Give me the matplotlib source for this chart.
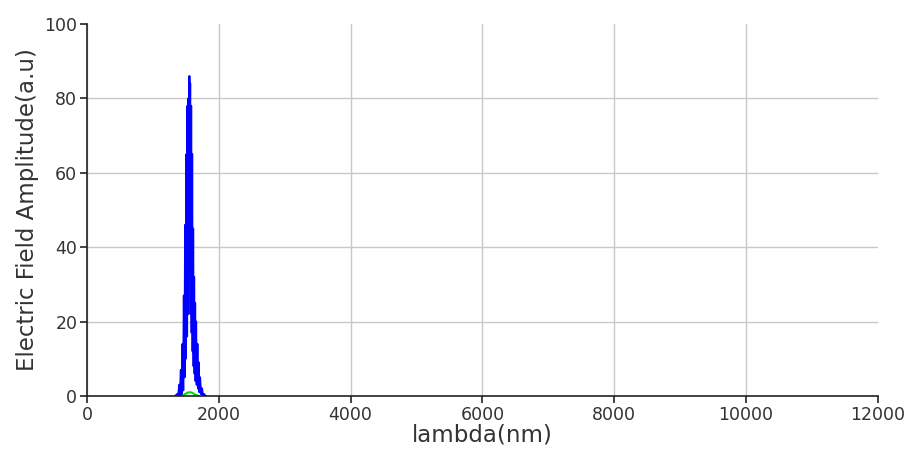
import matplotlib
matplotlib.use("Agg")
import matplotlib.pyplot as plt

# spectrum (wavelength nm, amplitude a.u.)
lam_blue = [1340, 1370, 1385, 1400, 1410, 1425, 1435, 1450, 1460, 1470, 1480, 1490, 1500, 1510,
            1518, 1525, 1532, 1540, 1548, 1553, 1558, 1565, 1572, 1580, 1588, 1595, 1603, 1610,
            1618, 1625, 1633, 1640, 1648, 1655, 1665, 1675, 1685, 1695, 1705, 1715, 1730, 1745,
            1760, 1775, 1800]
amp_blue = [0, 0.5, 0, 3, 0, 7, 0.5, 14, 1.5, 27, 5, 46, 10, 65,
            16, 78, 22, 80, 62, 86, 62, 84, 22, 78, 17, 65, 12, 45,
            8, 32, 6, 25, 4, 20, 3, 14, 2, 9, 1, 5, 0.5, 2,
            0, 0.5, 0]

lam_green = [1430, 1470, 1500, 1530, 1560, 1590, 1620, 1650, 1690]
amp_green = [0, 0.3, 0.6, 0.9, 1.0, 0.9, 0.6, 0.3, 0]

x_ticks = [0, 2000, 4000, 6000, 8000, 10000, 12000]
y_ticks = [0, 20, 40, 60, 80, 100]

fig = plt.figure(figsize=(9.06, 4.53), dpi=100)
ax = fig.add_axes([0.096, 0.126, 0.873, 0.821])
ax.plot(lam_green, amp_green, color="#00dd00", lw=1.5, zorder=2)
ax.plot(lam_blue, amp_blue, color="#0000ff", lw=1.5, zorder=3)

ax.set_xlim(0, 12000)
ax.set_ylim(0, 100)
ax.set_xticks(x_ticks)
ax.set_yticks(y_ticks)
ax.grid(True, color="#c8c8c8", lw=1.0, zorder=0)
ax.set_axisbelow(True)
# no grid line on the open top / right edges
ax.xaxis.get_gridlines()[-1].set_visible(False)
ax.yaxis.get_gridlines()[-1].set_visible(False)
for s in ("top", "right"):
    ax.spines[s].set_visible(False)
for s in ("left", "bottom"):
    ax.spines[s].set_color("#222222")
    ax.spines[s].set_linewidth(1.2)
ax.tick_params(direction="out", length=5, width=1.2, color="#222222",
               labelsize=12.5, labelcolor="#333333", pad=2)
ax.set_xlabel("lambda(nm)", fontsize=16.5, color="#333333", labelpad=0)
ax.set_ylabel("Electric Field Amplitude(a.u)", fontsize=16.5, color="#333333", labelpad=4)

fig.savefig("out.png")
